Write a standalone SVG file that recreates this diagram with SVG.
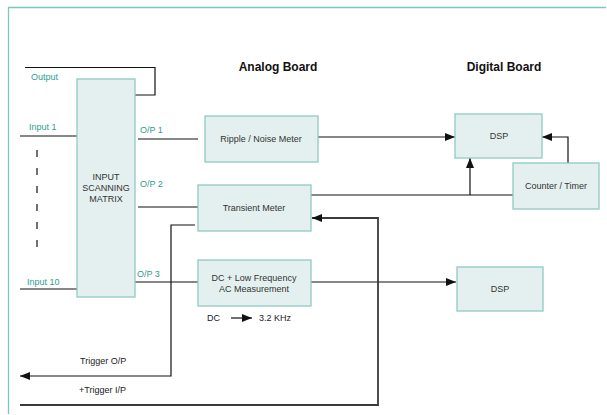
<svg xmlns="http://www.w3.org/2000/svg" width="607" height="415" viewBox="0 0 607 415">
<defs>
<style>
.box{fill:#e4f0ef;stroke:#8fcac3;stroke-width:1.3}
.bt{font-family:"Liberation Sans",Arial,sans-serif;font-size:9px;fill:#333;text-anchor:middle}
.lt{font-family:"Liberation Sans",Arial,sans-serif;font-size:9px;fill:#2e9e8f}
.dt{font-family:"Liberation Sans",Arial,sans-serif;font-size:9px;fill:#222}
.hd{font-family:"Liberation Sans",Arial,sans-serif;font-size:12px;font-weight:bold;fill:#111;text-anchor:middle}
.ln{fill:none;stroke:#111;stroke-width:1.2}
.tk{fill:none;stroke:#3a3a3a;stroke-width:1.8}
</style>
<marker id="ah" viewBox="0 0 10 8" refX="10" refY="4" markerWidth="10" markerHeight="8" markerUnits="userSpaceOnUse" orient="auto">
<path d="M0,0 L10,4 L0,8 Z" fill="#111"/>
</marker>
</defs>
<rect width="607" height="415" fill="#fff"/>
<path d="M8.5,414 V7.5 H606" fill="none" stroke="#7cc6bc" stroke-width="1.3"/>

<text class="hd" x="278" y="71">Analog Board</text>
<text class="hd" x="504" y="71">Digital Board</text>

<g id="connectors">
<path class="ln" d="M25,67.5 H155 V95 H135"/>
<path class="ln" d="M20,136 H77"/>
<path d="M37,150 V258" stroke="#111" stroke-width="1.2" stroke-dasharray="7,11"/>
<path class="ln" d="M20,289 H77"/>
<path class="ln" d="M138,139 H198"/>
<path class="ln" d="M138,207 H198"/>
<path class="ln" d="M135,282 H198"/>
<path class="ln" d="M318,137 H455" marker-end="url(#ah)"/>
<path class="ln" d="M311,195 H513"/>
<path class="ln" d="M470,195 V158" marker-end="url(#ah)"/>
<path class="ln" d="M568,163 V137 H542" marker-end="url(#ah)"/>
<path class="ln" d="M311,282 H456" marker-end="url(#ah)"/>
<path class="ln" d="M195,225 H171 V376 H20" marker-end="url(#ah)"/>
<path class="tk" d="M20,405 H378 V218 H312" marker-end="url(#ah)"/>
<path class="ln" d="M231,318 H252" marker-end="url(#ah)"/>
</g>

<g id="matrix">
<rect class="box" x="77" y="79" width="58" height="218"/>
<text class="bt" x="106" y="180">INPUT</text>
<text class="bt" x="106" y="191">SCANNING</text>
<text class="bt" x="106" y="202">MATRIX</text>
</g>
<g id="ripple">
<rect class="box" x="205" y="116" width="113" height="46"/>
<text class="bt" x="261" y="142">Ripple / Noise Meter</text>
</g>
<g id="transient">
<rect class="box" x="198" y="185" width="113" height="46"/>
<text class="bt" x="254" y="211">Transient Meter</text>
</g>
<g id="dclf">
<rect class="box" x="198" y="260" width="113" height="46"/>
<text class="bt" x="254" y="281">DC + Low Frequency</text>
<text class="bt" x="254" y="292">AC Measurement</text>
</g>
<g id="dsp1">
<rect class="box" x="455" y="114" width="87" height="44"/>
<text class="bt" x="499" y="139">DSP</text>
</g>
<g id="counter">
<rect class="box" x="513" y="163" width="86" height="46"/>
<text class="bt" x="556" y="189">Counter / Timer</text>
</g>
<g id="dsp2">
<rect class="box" x="457" y="267" width="86" height="44"/>
<text class="bt" x="500" y="292">DSP</text>
</g>

<g id="labels">
<text class="lt" x="31" y="80">Output</text>
<text class="lt" x="29" y="130">Input 1</text>
<text class="lt" x="27" y="285">Input 10</text>
<text class="lt" x="140" y="133">O/P 1</text>
<text class="lt" x="140" y="187">O/P 2</text>
<text class="lt" x="137" y="277">O/P 3</text>
<text class="dt" x="207" y="321">DC</text>
<text class="dt" x="259" y="321">3.2 KHz</text>
<text class="dt" x="80" y="364">Trigger O/P</text>
<text class="dt" x="79" y="393">+Trigger I/P</text>
</g>
</svg>
